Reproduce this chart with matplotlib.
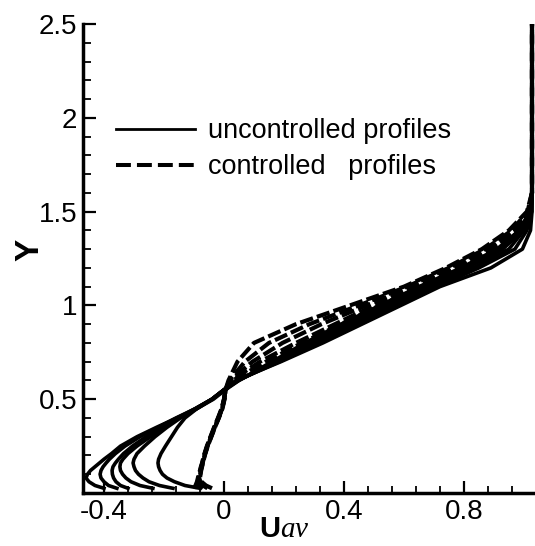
import numpy as np
import matplotlib
matplotlib.use("Agg")
import matplotlib.pyplot as plt
from matplotlib.lines import Line2D
from matplotlib.ticker import MultipleLocator, FixedLocator, FuncFormatter

# DATA
# common wall-normal positions shared by every profile
y_levels = [0.025, 0.04, 0.06, 0.08, 0.10, 0.12, 0.14, 0.16, 0.18, 0.21, 0.25,
            0.30, 0.35, 0.40, 0.45, 0.50, 0.55, 0.60, 0.70, 0.80, 0.90, 1.00,
            1.10, 1.20, 1.30, 1.40, 1.50, 1.60, 1.80, 2.50]

# uncontrolled profiles (solid)
u_unc1 = [-0.400, -0.430, -0.450, -0.460, -0.455, -0.445, -0.430, -0.415, -0.400, -0.375, -0.345,
          -0.290, -0.225, -0.157, -0.090, -0.035, 0.005, 0.050, 0.160, 0.270, 0.390, 0.520,
          0.650, 0.790, 0.910, 0.985, 1.020, 1.027, 1.027, 1.027]
u_unc2 = [-0.357, -0.385, -0.400, -0.410, -0.413, -0.410, -0.403, -0.393, -0.382, -0.362, -0.330,
          -0.280, -0.220, -0.160, -0.095, -0.040, 0.000, 0.050, 0.170, 0.290, 0.410, 0.540,
          0.670, 0.800, 0.920, 0.990, 1.022, 1.027, 1.027, 1.027]
u_unc3 = [-0.320, -0.345, -0.360, -0.368, -0.372, -0.373, -0.370, -0.362, -0.352, -0.335, -0.305,
          -0.260, -0.210, -0.155, -0.095, -0.040, 0.000, 0.045, 0.175, 0.300, 0.420, 0.550,
          0.680, 0.810, 0.930, 0.995, 1.024, 1.027, 1.027, 1.027]
u_unc4 = [-0.237, -0.280, -0.310, -0.327, -0.338, -0.345, -0.347, -0.345, -0.337, -0.320, -0.290,
          -0.245, -0.200, -0.150, -0.095, -0.040, 0.000, 0.045, 0.180, 0.310, 0.440, 0.570,
          0.700, 0.830, 0.950, 1.000, 1.025, 1.027, 1.027, 1.027]
u_unc5 = [-0.170, -0.215, -0.250, -0.270, -0.285, -0.295, -0.300, -0.303, -0.300, -0.290, -0.265,
          -0.230, -0.190, -0.145, -0.090, -0.040, 0.000, 0.045, 0.185, 0.320, 0.450, 0.580,
          0.710, 0.850, 0.970, 1.010, 1.026, 1.027, 1.027, 1.027]
u_unc6 = [-0.080, -0.130, -0.165, -0.190, -0.205, -0.213, -0.218, -0.220, -0.218, -0.210, -0.195,
          -0.175, -0.155, -0.130, -0.090, -0.040, 0.000, 0.040, 0.190, 0.330, 0.460, 0.590,
          0.720, 0.890, 0.995, 1.022, 1.027, 1.027, 1.027, 1.027]

# controlled profiles (dashed)
u_ctl1 = [-0.100, -0.095, -0.090, -0.087, -0.084, -0.080, -0.077, -0.073, -0.070, -0.065, -0.057,
          -0.045, -0.033, -0.020, -0.008, 0.000, 0.005, 0.015, 0.045, 0.100, 0.240, 0.420,
          0.600, 0.740, 0.860, 0.950, 1.010, 1.027, 1.027, 1.027]
u_ctl2 = [-0.085, -0.090, -0.088, -0.085, -0.082, -0.079, -0.076, -0.072, -0.069, -0.064, -0.056,
          -0.044, -0.032, -0.019, -0.007, 0.000, 0.005, 0.018, 0.070, 0.150, 0.285, 0.450,
          0.610, 0.750, 0.870, 0.960, 1.012, 1.027, 1.027, 1.027]
u_ctl3 = [-0.070, -0.082, -0.085, -0.083, -0.081, -0.078, -0.075, -0.071, -0.068, -0.063, -0.055,
          -0.043, -0.031, -0.018, -0.006, 0.001, 0.005, 0.020, 0.095, 0.195, 0.325, 0.475,
          0.625, 0.765, 0.885, 0.968, 1.016, 1.027, 1.027, 1.027]
u_ctl4 = [-0.055, -0.070, -0.080, -0.081, -0.079, -0.077, -0.074, -0.071, -0.068, -0.063, -0.055,
          -0.043, -0.031, -0.018, -0.006, 0.001, 0.005, 0.025, 0.120, 0.240, 0.370, 0.500,
          0.640, 0.780, 0.900, 0.975, 1.020, 1.027, 1.027, 1.027]
u_ctl5 = [-0.040, -0.060, -0.075, -0.080, -0.078, -0.076, -0.073, -0.070, -0.067, -0.062, -0.054,
          -0.042, -0.030, -0.017, -0.005, 0.002, 0.006, 0.030, 0.140, 0.260, 0.390, 0.520,
          0.660, 0.800, 0.920, 0.985, 1.022, 1.027, 1.027, 1.027]

x_major = [-0.4, 0.0, 0.4, 0.8]
y_major = [0.5, 1.0, 1.5, 2.0, 2.5]

# STYLE
plt.rcParams["font.family"] = ["Liberation Sans", "DejaVu Sans"]
plt.rcParams["axes.unicode_minus"] = False
plt.rcParams["mathtext.fontset"] = "custom"
plt.rcParams["mathtext.bf"] = "Liberation Sans:bold"
plt.rcParams["mathtext.it"] = "Liberation Serif:italic"
plt.rcParams["mathtext.rm"] = "Liberation Sans"

DASH = (0, (3.2, 1.0))

fig = plt.figure(figsize=(5.35, 5.46), dpi=100)
ax = fig.add_axes([83 / 535, 1 - 493 / 546, 1 - 83 / 535, (493 - 24) / 546])

for u in [u_unc1, u_unc2, u_unc3, u_unc4, u_unc5, u_unc6]:
    ax.plot(u, y_levels, color="black", lw=2.6, solid_joinstyle="round")

for u in [u_ctl1, u_ctl2, u_ctl3, u_ctl4, u_ctl5]:
    ax.plot(u, y_levels, color="black", lw=3.0, linestyle=DASH)

ax.set_xlim(-0.47, 1.037)
ax.set_ylim(0, 2.5)

# axes look
for side in ["top", "right"]:
    ax.spines[side].set_visible(False)
for side in ["left", "bottom"]:
    ax.spines[side].set_linewidth(2.5)

ax.xaxis.set_major_locator(FixedLocator(x_major))
ax.xaxis.set_minor_locator(MultipleLocator(0.08))
ax.yaxis.set_major_locator(FixedLocator(y_major))
ax.yaxis.set_minor_locator(MultipleLocator(0.1))
ax.xaxis.set_major_formatter(FuncFormatter(lambda v, p: "%g" % v))
ax.yaxis.set_major_formatter(FuncFormatter(lambda v, p: "%g" % v))

ax.tick_params(which="both", direction="in", labelsize=20, pad=4)
ax.tick_params(which="major", length=9, width=1.6)
ax.tick_params(which="minor", length=5.4, width=1.3)

# axis titles
fig.text(30 / 535, 1 - 250 / 546, "Y", rotation=90, ha="center", va="center",
         fontsize=24, fontweight="bold")
fig.text(259 / 535, 9 / 546, r"$\mathbf{U}\mathit{av}$", ha="left", va="baseline", fontsize=21)

# legend
handles = [Line2D([], [], color="black", lw=2.0),
           Line2D([], [], color="black", lw=2.9, linestyle=(0, (3.7, 1.5)))]
ax.legend(handles, ["uncontrolled profiles", "controlled   profiles"],
          loc="upper left", bbox_to_anchor=(116 / 535, 1 - 118 / 546),
          bbox_transform=fig.transFigure, frameon=False, fontsize=19.5,
          handlelength=2.92, handletextpad=0.48, labelspacing=0.38,
          borderpad=0, borderaxespad=0)

plt.savefig("out.png", dpi=100)
